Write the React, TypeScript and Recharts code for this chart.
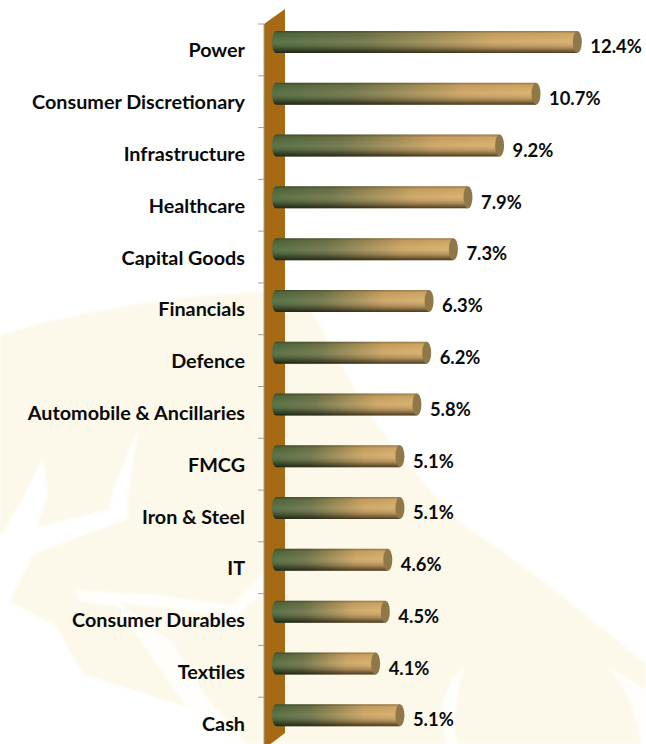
// App.tsx
import React from "react";
import { BarChart, Bar, XAxis, YAxis, LabelList } from "recharts";

const sectors = [
  "Power",
  "Consumer Discretionary",
  "Infrastructure",
  "Healthcare",
  "Capital Goods",
  "Financials",
  "Defence",
  "Automobile & Ancillaries",
  "FMCG",
  "Iron & Steel",
  "IT",
  "Consumer Durables",
  "Textiles",
  "Cash",
];
const weights = [12.4, 10.7, 9.2, 7.9, 7.3, 6.3, 6.2, 5.8, 5.1, 5.1, 4.6, 4.5, 4.1, 5.1];

const data = sectors.map((name, i) => ({ name, weight: weights[i] }));

const WIDTH = 646;
const HEIGHT = 744;
const FONT = "Lato, 'Open Sans', sans-serif";
const CREAM = "#fcf8ea";
const BAND = 725 / sectors.length;

// 3D look of the original: bars sit up and to the right of the axis plane
const LIFT = 8;

function Cylinder(props: any) {
  const { x, y, width, height } = props;
  const r = height / 2;
  const left = x + 8;
  const right = x + width + 12;
  const top = y - LIFT;
  const body = `M${left + 4},${top} L${right},${top} L${right},${top + height} L${left + 4},${top + height} A4,${r} 0 0 1 ${left + 4},${top} Z`;
  return (
    <g>
      <path d={body} fill="url(#barBody)" />
      <path d={body} fill="url(#barShade)" />
      <ellipse cx={right} cy={top + r} rx={4.5} ry={r} fill="#8f7748" />
    </g>
  );
}

function SectorTick(props: any) {
  const { y, payload } = props;
  return (
    <g>
      <line x1={258} x2={264} y1={y - BAND / 2} y2={y - BAND / 2} stroke="#a0a0a0" strokeWidth={1} />
      <text
        x={245}
        y={y + 2.5}
        textAnchor="end"
        dominantBaseline="middle"
        fontFamily={FONT}
        fontWeight={700}
        fontSize={19.8}
        fill="#0a0a0a"
      >
        {payload.value}
      </text>
    </g>
  );
}

function WeightLabel(props: any) {
  const { x, y, width, height, value } = props;
  return (
    <text
      x={x + width + 25}
      y={y + height / 2 - 1.5}
      dominantBaseline="middle"
      fontFamily={FONT}
      fontWeight={700}
      fontSize={18.4}
      fill="#0a0a0a"
    >
      {value.toFixed(1)}%
    </text>
  );
}

function Backdrop() {
  return (
    <svg width={WIDTH} height={HEIGHT} style={{ position: "absolute", left: 0, top: 0 }}>
      {/* faint logo watermark */}
      <g style={{ filter: "blur(1.5px)" }}>
        <path
          fill={CREAM}
          d="M0,335 Q130,296 290,290 L313,313 L340,363 L373,420 L413,470 L453,517 L547,584 L646,664 L646,744 L232,744 L187,707 L83,674 L70,651 L57,627 L10,601 L33,554 L128,519 L128,494 L138,428 L113,490 L110,509 L37,527 L48,494 L42,458 L25,494 L0,537 Z"
        />
        <path
          fill="#fffefb"
          d="M75,590 L150,594 L233,605 L263,572 L264,590 L235,618 L190,611 L120,603 L172,642 L205,695 L247,744 L232,744 L187,707 L150,655 L117,606 L80,602 Z"
        />
        <path fill="#fffefb" d="M465,666 Q436,695 443,727 L446,744 L457,744 Q452,700 465,666 Z" />
        <path fill="#fffefb" d="M607,666 L646,690 L646,744 L641,744 Q636,700 607,666 Z" />
      </g>
      {/* axis wall */}
      <polygon points="264,24 285,9 285,733 264,749" fill="#a66a14" />
    </svg>
  );
}

export default function App() {
  return (
    <div
      style={{
        position: "absolute",
        left: 0,
        top: 0,
        width: WIDTH,
        height: HEIGHT,
        overflow: "hidden",
        background: "#fff",
      }}
    >
      <Backdrop />
      <div style={{ position: "absolute", left: 0, top: 0 }}>
        <BarChart
          width={WIDTH}
          height={760}
          data={data}
          layout="vertical"
          margin={{ top: 24, right: 41.8, bottom: 11, left: 0 }}
          barSize={22}
        >
          <defs>
            <linearGradient id="barBody" x1="0" y1="0" x2="1" y2="0">
              <stop offset="0%" stopColor="#4f6a3c" />
              <stop offset="30%" stopColor="#6f7448" />
              <stop offset="72%" stopColor="#cda462" />
              <stop offset="100%" stopColor="#d8ae69" />
            </linearGradient>
            <linearGradient id="barShade" x1="0" y1="0" x2="0" y2="1">
              <stop offset="0%" stopColor="#000" stopOpacity={0.3} />
              <stop offset="12%" stopColor="#000" stopOpacity={0.05} />
              <stop offset="45%" stopColor="#fff" stopOpacity={0.06} />
              <stop offset="78%" stopColor="#000" stopOpacity={0.22} />
              <stop offset="100%" stopColor="#000" stopOpacity={0.65} />
            </linearGradient>
          </defs>
          <XAxis type="number" domain={[0, 14]} hide />
          <YAxis
            type="category"
            dataKey="name"
            width={264}
            interval={0}
            tick={SectorTick}
            tickLine={false}
            axisLine={{ stroke: "#a0a0a0" }}
          />
          <Bar dataKey="weight" shape={Cylinder} isAnimationActive={false}>
            <LabelList dataKey="weight" content={WeightLabel} />
          </Bar>
        </BarChart>
      </div>
    </div>
  );
}
